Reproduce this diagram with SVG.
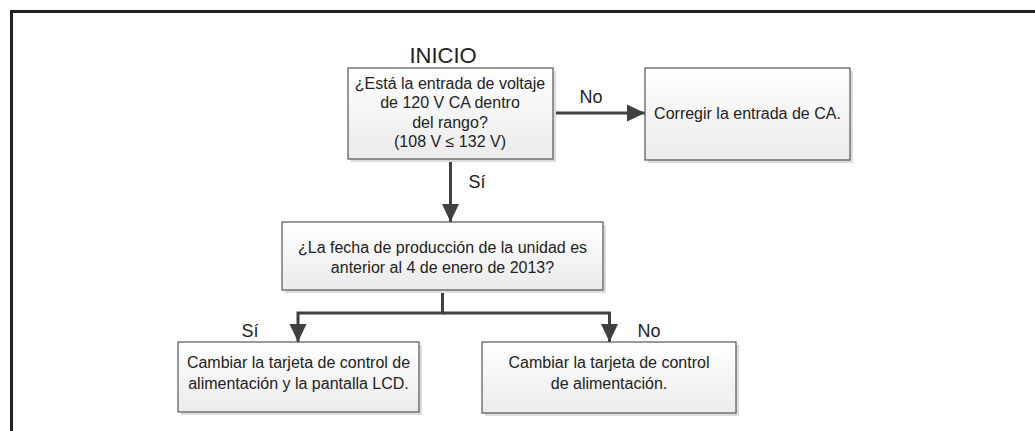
<svg xmlns="http://www.w3.org/2000/svg" width="1035" height="431" viewBox="0 0 1035 431">
  <style>
    .box { fill: url(#boxGrad); stroke: #555555; stroke-width: 1.2; }
    .shadow { fill: #dcdcdc; }
    .txt { font-family: "Liberation Sans", Arial, sans-serif; font-size: 16px; fill: #222222; text-anchor: middle; }
    .lbl { font-family: "Liberation Sans", Arial, sans-serif; font-size: 18px; fill: #222222; text-anchor: middle; }
    .title { font-family: "Liberation Sans", Arial, sans-serif; font-size: 22px; fill: #222222; text-anchor: middle; }
    .conn { fill: none; stroke: #404040; stroke-width: 3; }
    .frame { fill: none; stroke: #222222; stroke-width: 3; }
  </style>
  <defs>
    <linearGradient id="boxGrad" x1="0" y1="0" x2="0" y2="1">
      <stop offset="0" stop-color="#ffffff"/>
      <stop offset="1" stop-color="#ebebeb"/>
    </linearGradient>
    <marker id="arrow" markerUnits="userSpaceOnUse" markerWidth="18" markerHeight="18" viewBox="0 0 18 18" refX="18" refY="9" orient="auto">
      <path d="M0,0.5 L18,9 L0,17.5 Z" fill="#404040"/>
    </marker>
  </defs>

  <rect width="1035" height="431" fill="#ffffff"/>

  <g id="frame">
    <path class="frame" d="M11.5,431 L11.5,11.5 L1035,11.5"/>
  </g>

  <text class="title" x="443" y="63">INICIO</text>

  <g id="connectors">
    <path class="conn" d="M553,113 L645,113" marker-end="url(#arrow)"/>
    <path class="conn" d="M450.5,159 L450.5,222" marker-end="url(#arrow)"/>
    <path class="conn" d="M442.5,290 L442.5,313 L298,313 L298,342" marker-end="url(#arrow)"/>
    <path class="conn" d="M442.5,313 L609.5,313 L609.5,342" marker-end="url(#arrow)"/>
    <text class="lbl" x="591" y="103">No</text>
    <text class="lbl" x="477" y="188">Sí</text>
    <text class="lbl" x="250" y="337">Sí</text>
    <text class="lbl" x="649" y="337">No</text>
  </g>

  <g id="node-voltage">
    <rect class="shadow" x="351" y="71" width="205" height="91"/>
    <rect class="box" x="348" y="68" width="205" height="91"/>
    <text class="txt" x="450" y="89">¿Está la entrada de voltaje</text>
    <text class="txt" x="450" y="108">de 120 V CA dentro</text>
    <text class="txt" x="450" y="128">del rango?</text>
    <text class="txt" x="450" y="147">(108 V ≤ 132 V)</text>
  </g>

  <g id="node-correct">
    <rect class="shadow" x="648" y="71" width="205" height="92"/>
    <rect class="box" x="645" y="68" width="205" height="92"/>
    <text class="txt" x="747.5" y="119">Corregir la entrada de CA.</text>
  </g>

  <g id="node-date">
    <rect class="shadow" x="285" y="225" width="321" height="68"/>
    <rect class="box" x="282" y="222" width="321" height="68"/>
    <text class="txt" x="442.5" y="253">¿La fecha de producción de la unidad es</text>
    <text class="txt" x="442.5" y="273">anterior al 4 de enero de 2013?</text>
  </g>

  <g id="node-lcd">
    <rect class="shadow" x="181" y="345" width="241" height="70"/>
    <rect class="box" x="178" y="342" width="241" height="70"/>
    <text class="txt" x="298.5" y="368">Cambiar la tarjeta de control de</text>
    <text class="txt" x="298.5" y="389">alimentación y la pantalla LCD.</text>
  </g>

  <g id="node-power">
    <rect class="shadow" x="485" y="345" width="254" height="71"/>
    <rect class="box" x="482" y="342" width="254" height="71"/>
    <text class="txt" x="609" y="368">Cambiar la tarjeta de control</text>
    <text class="txt" x="609" y="389">de alimentación.</text>
  </g>
</svg>
